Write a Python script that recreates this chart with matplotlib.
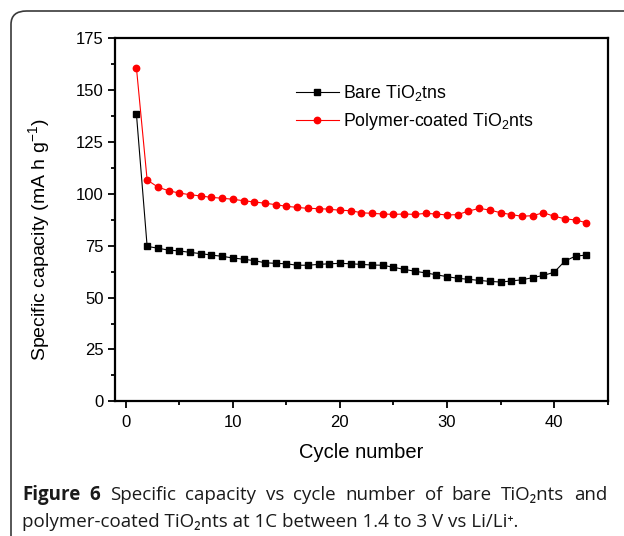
import matplotlib
matplotlib.use("Agg")
import matplotlib.pyplot as plt
from matplotlib.patches import FancyBboxPatch
from matplotlib.ticker import MultipleLocator

plt.rcParams['font.family'] = ['Liberation Sans', 'DejaVu Sans']
plt.rcParams['mathtext.fontset'] = 'custom'
plt.rcParams['mathtext.rm'] = 'Liberation Sans'
plt.rcParams['mathtext.it'] = 'Liberation Sans'

# data
cycles = list(range(1, 44))
bare = [138.5, 74.7, 73.8, 72.9, 72.5, 71.8, 71.2, 70.5, 69.9, 69.1,
        68.5, 67.8, 66.8, 66.5, 66.3, 65.6, 65.6, 66.0, 66.3, 66.5,
        66.3, 66.0, 65.7, 65.6, 64.6, 63.6, 62.7, 61.9, 61.0, 60.1,
        59.3, 58.8, 58.3, 57.8, 57.5, 58.0, 58.6, 59.6, 60.7, 62.2,
        67.6, 70.0, 70.5]
coated = [160.8, 106.7, 103.3, 101.5, 100.4, 99.6, 99.0, 98.3, 97.9, 97.4,
          96.7, 96.1, 95.5, 94.8, 94.0, 93.5, 93.0, 92.9, 92.6, 92.1,
          91.9, 90.9, 90.6, 90.3, 90.1, 90.3, 90.1, 90.6, 90.3, 89.8,
          90.0, 91.7, 93.0, 92.2, 90.9, 90.0, 89.2, 89.5, 90.9, 89.2,
          88.0, 87.4, 86.1]
labels = ['Bare TiO$_2$tns', 'Polymer-coated TiO$_2$nts']

W, H = 624, 536
fig = plt.figure(figsize=(W / 100, H / 100), dpi=100)

# rounded frame around the figure (cut at right and bottom)
frame = FancyBboxPatch((11 / W, -40 / H), 700 / W, (H - 11 + 40) / H,
                       boxstyle="round,pad=0,rounding_size=0.025",
                       transform=fig.transFigure, fill=False,
                       edgecolor='#3a3a3a', linewidth=1.2)
fig.patches.append(frame)

ax = fig.add_axes([115 / W, 1 - 401.3 / H, (607.7 - 115) / W, (401.3 - 38.3) / H])
ax.plot(cycles, bare, color='black', lw=0.8, marker='s', markersize=4.6, label=labels[0])
ax.plot(cycles, coated, color='red', lw=0.8, marker='o', markersize=4.6, label=labels[1])

ax.set_xlim(-1, 45)
ax.set_ylim(0, 175)
ax.xaxis.set_major_locator(MultipleLocator(10))
ax.xaxis.set_minor_locator(MultipleLocator(5))
ax.yaxis.set_major_locator(MultipleLocator(25))
ax.yaxis.set_minor_locator(MultipleLocator(12.5))
for s in ax.spines.values():
    s.set_linewidth(1.6)
ax.tick_params(which='major', direction='out', length=5, width=1.3, labelsize=12, pad=3)
ax.tick_params(axis='x', which='major', pad=5)
ax.tick_params(which='minor', direction='out', length=3, width=1.3)
ax.tick_params(top=False, right=False, which='both')

ax.set_xlabel('Cycle number', fontsize=14.5, labelpad=9)
ax.set_ylabel('Specific capacity (mA h g$^{-1}$)', fontsize=14)
ax.yaxis.set_label_coords(-0.128, 0.445)

ax.legend(loc='upper left', bbox_to_anchor=(0.335, 0.92), frameon=False,
          fontsize=12.8, handlelength=2.4, handletextpad=0.25, labelspacing=0.45)

# caption: first line justified to full width, second line ragged
capfont = ['Open Sans', 'DejaVu Sans']
capsize = 13.5
capcol = '#1a1a1a'
line1 = [('Figure', 'bold'), ('6', 'bold'), ('Specific', 'normal'), ('capacity', 'normal'),
         ('vs', 'normal'), ('cycle', 'normal'), ('number', 'normal'), ('of', 'normal'),
         ('bare', 'normal'), ('TiO\u2082nts', 'normal'), ('and', 'normal')]
x0, x1 = 22, 607
words = [fig.text(0, 1 - 495 / H, w, fontsize=capsize, fontweight=fw, family=capfont,
                  color=capcol, va='center') for w, fw in line1]
r = fig.canvas.get_renderer()
widths = [t.get_window_extent(r).width for t in words]
gap = (x1 - x0 - sum(widths)) / (len(words) - 1)
x = x0
for t, w in zip(words, widths):
    t.set_x(x / W)
    x += w + gap

fig.text(x0 / W, 1 - 522 / H,
         'polymer-coated TiO\u2082nts at 1C between 1.4 to 3 V vs Li/Li\u207a.',
         fontsize=capsize, family=capfont, color=capcol, va='center')

fig.savefig('out.png', dpi=100)
